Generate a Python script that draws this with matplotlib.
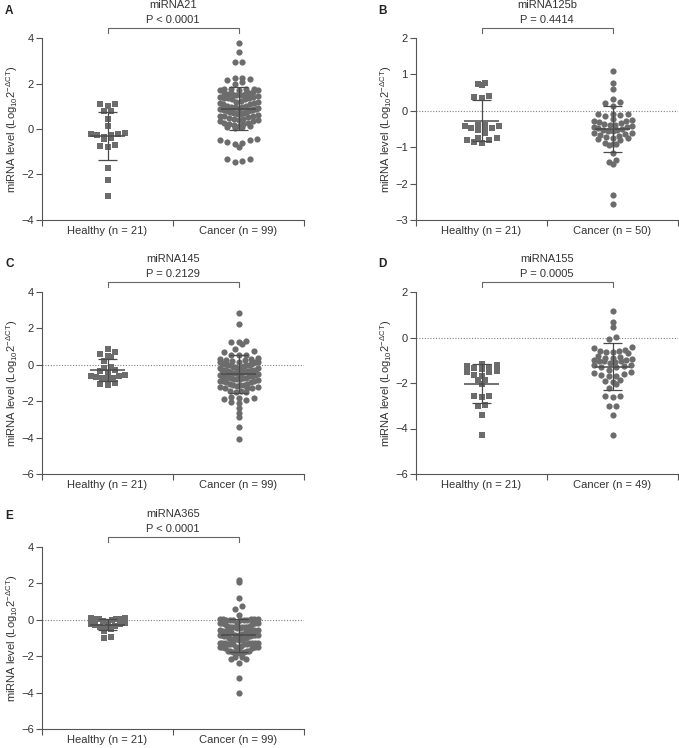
import numpy as np
import matplotlib
matplotlib.use('Agg')
import matplotlib.pyplot as plt

plt.rcParams['font.family'] = ['Liberation Sans', 'DejaVu Sans']
plt.rcParams['mathtext.fontset'] = 'custom'
plt.rcParams['mathtext.rm'] = 'Liberation Sans'
plt.rcParams['mathtext.it'] = 'Liberation Sans:italic'
plt.rcParams['mathtext.sf'] = 'Liberation Sans'

# values (log10 2^-dCT)
mir21_healthy = [1.12, 1.02, 1.1, 0.78, 0.8, 0.45, 0.13, -0.17, -0.2, -0.25, -0.22,
                 -0.25, -0.45, -0.4, -0.35, -0.75, -0.7, -0.8, -1.7, -2.25, -2.95]
mir21_cancer = [3.78, 3.38, 2.95, 2.95,
                2.25, 2.18, 2.05, 2.0, 2.15, 2.25,
                1.78, 1.75, 1.72, 1.7, 1.76, 1.74, 1.7,
                1.62, 1.58, 1.55, 1.5, 1.52, 1.6, 1.56, 1.5,
                1.42, 1.4, 1.35, 1.3, 1.38, 1.44, 1.32, 1.36,
                1.22, 1.18, 1.15, 1.1, 1.2, 1.12, 1.16,
                1.0, 0.98, 0.95, 0.92, 1.02, 0.96, 0.9, 0.94,
                0.88, 0.85, 0.82, 0.8, 0.86, 0.84, 0.8, 0.83, 0.87,
                0.75, 0.72, 0.7, 0.68, 0.74, 0.7, 0.66, 0.73, 0.69,
                0.6, 0.55, 0.5, 0.58, 0.52, 0.56,
                0.42, 0.38, 0.35, 0.4, 0.36, 0.44,
                0.25, 0.2, 0.15, 0.22, 0.18, 0.28,
                0.1, 0.05, 0.08, 0.12,
                -0.55, -0.65, -0.5, -0.8, -0.5, -0.6, -0.45,
                -1.3, -1.45, -1.42, -1.3]

mir125b_healthy = [0.75, 0.70, 0.77, 0.4, 0.35, 0.37,
                   -0.4, -0.43, -0.48, -0.53, -0.6, -0.52, -0.47, -0.42, -0.39,
                   -0.76, -0.8, -0.88, -0.85, -0.79, -0.74]
mir125b_cancer = [1.08, 0.76, 0.6, 0.33, 0.22, 0.23, 0.12,
                  -0.08, -0.1, -0.12, -0.09, -0.15,
                  -0.25, -0.28, -0.3, -0.27, -0.33, -0.22,
                  -0.38, -0.42, -0.4, -0.45, -0.36, -0.44,
                  -0.5, -0.52, -0.55, -0.48, -0.53, -0.56,
                  -0.62, -0.65, -0.68, -0.6, -0.66,
                  -0.72, -0.75, -0.78, -0.74, -0.8,
                  -0.88, -0.92, -0.95, -0.9,
                  -1.15, -1.35, -1.45, -1.4,
                  -2.3, -2.55]

mir145_healthy = [0.85, 0.7, 0.62, 0.5, 0.45, 0.22, -0.15, -0.1,
                  -0.6, -0.45, -0.6, -0.65, -0.55, -0.7,
                  -0.8, -0.75, -1.0, -1.1, -1.05, -0.3, -0.35]
mir145_cancer = [2.85, 2.25, 1.32, 1.27, 1.15, 1.25, 0.87, 0.78, 0.55, 0.52, 0.55, 0.68,
                 0.32, 0.28, 0.35, 0.3, 0.25,
                 0.15, 0.18, 0.12, 0.16, 0.1, 0.14, 0.2,
                 0.02, -0.02, 0.0, 0.04, -0.04, 0.01, -0.01, 0.03,
                 -0.15, -0.12, -0.18, -0.14, -0.16, -0.2, -0.1,
                 -0.3, -0.28, -0.32, -0.35, -0.26, -0.3, -0.33,
                 -0.45, -0.42, -0.48, -0.5, -0.44, -0.46, -0.4,
                 -0.6, -0.58, -0.62, -0.65, -0.56, -0.6, -0.63,
                 -0.75, -0.72, -0.78, -0.8, -0.74, -0.76,
                 -0.9, -0.88, -0.92, -0.95, -0.86, -0.9,
                 -1.1, -1.08, -1.12, -1.15, -1.05, -1.1,
                 -1.25, -1.22, -1.28, -1.3, -1.24,
                 -1.45, -1.42, -1.48, -1.5,
                 -1.78, -1.85, -1.9, -1.95, -2.05, -2.1, -1.8,
                 -2.4, -2.65, -2.85, -3.4, -4.1]

mir155_healthy = [-1.19, -1.18, -1.25, -1.37, -1.33, -1.3, -1.5, -1.48, -1.52,
                  -1.65, -1.68, -1.85, -1.88, -2.05, -2.55, -2.6, -2.55,
                  -3.0, -2.95, -3.4, -4.3]
mir155_cancer = [1.18, 0.7, 0.48, 0.02, -0.05, -0.4, -0.45,
                 -0.6, -0.62, -0.65, -0.58, -0.7, -0.55,
                 -0.85, -0.9, -0.95, -0.88, -0.82, -1.0,
                 -1.02, -1.05, -1.08, -1.1, -1.0, -1.04,
                 -1.2, -1.25, -1.3, -1.28, -1.22,
                 -1.45, -1.5, -1.55, -1.6, -1.65, -1.7, -1.68,
                 -1.85, -1.95, -2.05, -1.9,
                 -2.2, -2.55, -2.6, -2.55, -3.0, -3.0, -3.4, -4.3]

mir365_healthy = [0.08, 0.05, 0.02, 0.0, 0.03, 0.06, 0.1, -0.05, -0.1, -0.2, -0.22,
                  -0.25, -0.3, -0.35, -0.38, -0.42, -0.45, -0.5, -0.6, -0.98, -0.97]
mir365_cancer = [2.2, 2.1, 1.2, 0.75, 0.62, 0.27,
                 0.05, 0.03, 0.0, -0.02, 0.04, 0.01, -0.03, 0.02, -0.01, 0.05, 0.0,
                 -0.2, -0.18, -0.22, -0.15, -0.25, -0.2, -0.17,
                 -0.4, -0.38, -0.42, -0.36, -0.44, -0.4, -0.35, -0.45, -0.39, -0.41,
                 -0.6, -0.58, -0.62, -0.65, -0.55, -0.6, -0.63, -0.57,
                 -0.85, -0.83, -0.87, -0.8, -0.9, -0.84, -0.86, -0.82, -0.88, -0.85, -0.81, -0.89,
                 -1.05, -1.02, -1.08, -1.0, -1.1, -1.04, -1.06, -1.03,
                 -1.3, -1.28, -1.32, -1.25, -1.35, -1.29, -1.31, -1.27, -1.33, -1.3, -1.26, -1.34,
                 -1.5, -1.48, -1.52, -1.45, -1.55, -1.5, -1.47, -1.53, -1.49,
                 -1.75, -1.72, -1.78, -1.7, -1.8, -1.74, -1.76, -1.73, -1.77,
                 -2.05, -2.15, -2.4, -2.15, -2.05, -3.2, -4.0]

panels = [
    ('A', 'miRNA21', 'P < 0.0001', mir21_healthy, mir21_cancer, 'Cancer (n = 99)', (-4, 4), [-4, -2, 0, 2, 4], False),
    ('B', 'miRNA125b', 'P = 0.4414', mir125b_healthy, mir125b_cancer, 'Cancer (n = 50)', (-3, 2), [-3, -2, -1, 0, 1, 2], True),
    ('C', 'miRNA145', 'P = 0.2129', mir145_healthy, mir145_cancer, 'Cancer (n = 99)', (-6, 4), [-6, -4, -2, 0, 2, 4], True),
    ('D', 'miRNA155', 'P = 0.0005', mir155_healthy, mir155_cancer, 'Cancer (n = 49)', (-6, 2), [-6, -4, -2, 0, 2], True),
    ('E', 'miRNA365', 'P < 0.0001', mir365_healthy, mir365_cancer, 'Cancer (n = 99)', (-6, 4), [-6, -4, -2, 0, 2, 4], True),
]

W, H = 679, 748
AW, AH = 262, 182
boxes = [(42, 38), (416, 38), (42, 292), (416, 292), (42, 547)]
letter_pos = [(5, 5), (378, 5), (5, 258), (378, 258), (5, 510)]

dot_color = '#6c6c6c'
line_color = '#555555'
text_color = '#333333'


def scatter_offsets(vals, ppu, row_h=6.0, step=7.5, half_max=19.0):
    # GraphPad-like scatter: values binned into rows, spread evenly,
    # lowest value of a row in the middle (gives the V shaped rows)
    vals = np.asarray(vals, dtype=float)
    rows = np.round(vals * ppu / row_h).astype(int)
    out = np.zeros(len(vals))
    for r in np.unique(rows):
        idx = np.where(rows == r)[0]
        n = len(idx)
        if n == 1:
            continue
        sp = min(step, 2 * half_max / (n - 1))
        slots = (np.arange(n) - (n - 1) / 2.0) * sp
        slots = slots[np.argsort(np.abs(slots), kind='stable')]
        idx = idx[np.argsort(vals[idx], kind='stable')]
        out[idx] = slots
    return out


fig = plt.figure(figsize=(W / 100, H / 100), dpi=100)

for (letter, title, ptxt, healthy, cancer, clabel, ylim, yticks, zero), (lx, ty), (px, py) in zip(panels, boxes, letter_pos):
    ax = fig.add_axes([lx / W, 1 - (ty + AH) / H, AW / W, AH / H])
    ppu_y = AH / (ylim[1] - ylim[0])
    ppu_x = AW / 2.0

    for xc, vals, mk, ms, hm in [(0.5, healthy, 's', 14, 17.0), (1.5, cancer, 'o', 20, 19.0)]:
        xs = xc + scatter_offsets(vals, ppu_y, half_max=hm) / ppu_x
        ax.scatter(xs, vals, marker=mk, s=ms, color=dot_color, linewidths=0, zorder=2)
        m = np.mean(vals)
        sd = np.std(vals, ddof=1)
        ax.hlines(m, xc - 0.135, xc + 0.135, color='#4a4a4a', lw=1.1, zorder=4)
        ax.vlines(xc, m - sd, m + sd, color='#4a4a4a', lw=0.9, zorder=4)
        ax.hlines([m - sd, m + sd], xc - 0.07, xc + 0.07, color='#4a4a4a', lw=0.9, zorder=4)

    if zero:
        ax.axhline(0, color='#808080', lw=0.8, ls=(0, (1, 1.5)), zorder=1)

    ax.set_xlim(0, 2)
    ax.set_ylim(*ylim)
    ax.set_yticks(yticks)
    ax.set_yticklabels([('\u2212%d' % -t) if t < 0 else str(t) for t in yticks])
    ax.set_xticks([0.5, 1.5])
    ax.set_xticklabels(['Healthy (n = 21)', clabel])
    ax.set_xticks([0, 1, 2], minor=True)
    ax.tick_params(axis='x', which='major', length=0, pad=4.5, labelsize=8, labelcolor=text_color)
    ax.tick_params(axis='x', which='minor', length=4, width=0.8, color=line_color)
    ax.tick_params(axis='y', length=4, width=0.8, color=line_color, labelsize=8,
                   labelcolor=text_color, pad=2)
    for s in ['top', 'right']:
        ax.spines[s].set_visible(False)
    for s in ['left', 'bottom']:
        ax.spines[s].set_color(line_color)
        ax.spines[s].set_linewidth(0.8)
    ax.set_ylabel(r'miRNA level (Log$_{10}$2$^{-\mathrm{\Delta CT}}$)', fontsize=8,
                  color=text_color, labelpad=1)

    tr = ax.get_xaxis_transform()
    ax.plot([0.5, 0.5, 1.5, 1.5], [1.027, 1.055, 1.055, 1.027], transform=tr,
            clip_on=False, color='#666666', lw=0.8)
    ax.text(1.0, 1.1, ptxt, transform=tr, ha='center', va='center', fontsize=8, color=text_color)
    ax.text(1.0, 1.18, title, transform=tr, ha='center', va='center', fontsize=8, color=text_color)

    fig.text(px / W, 1 - py / H, letter, ha='left', va='top', fontsize=8.5,
             fontweight='bold', color='#222222')

fig.savefig('out.png', dpi=100)
